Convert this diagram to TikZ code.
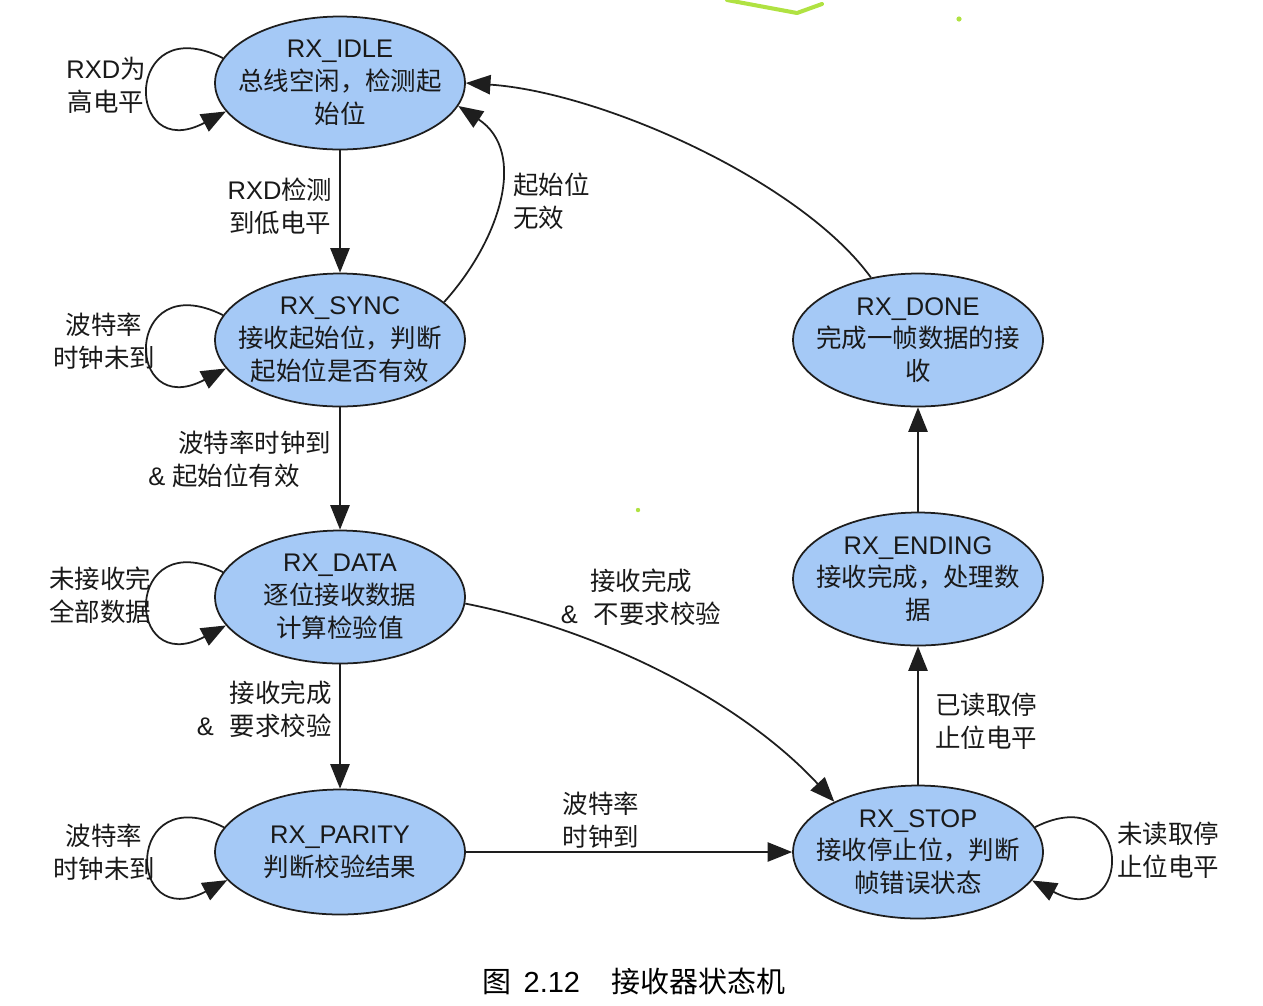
\documentclass[tikz,border=0pt]{standalone}
\usepackage{fontspec}
\setmainfont{Liberation Sans}
\newfontfamily\cjk{Noto Sans CJK SC}
\usetikzlibrary{shapes.geometric,arrows.meta}
\newcommand\zh[1]{{\cjk #1}}
\definecolor{stfill}{RGB}{165,201,246}
\definecolor{stline}{RGB}{30,30,30}
\definecolor{txt}{RGB}{25,25,25}
\definecolor{gmark}{RGB}{176,226,66}
\newcommand\lblfont{\fontsize{14.5pt}{18.7pt}\selectfont}
\newcommand\capfont{\fontsize{16.5pt}{20pt}\selectfont}
\tikzset{
  st/.style={ellipse, draw=stline, line width=1pt, fill=stfill, minimum width=5cm, minimum height=2.66cm, inner sep=0pt},
  lab/.style={align=center, inner sep=0pt, font=\lblfont, text=txt},
  arr/.style={-{Triangle[length=14pt,width=11pt]}, line width=1pt, draw=stline},
  gm/.style={draw=gmark, line width=2.3pt, line cap=round, line join=round},
}
\begin{document}
\begin{tikzpicture}[x=0.02cm, y=-0.02cm]
\useasboundingbox (0,0) rectangle (1263,1005);
% stray marks
\draw[gm] (727,0) -- (797,13) -- (822,4);
\fill[gmark] (959,19) circle[radius=2.6];
\fill[gmark] (638,510) circle[radius=2.2];
% states
\node[st, label={[lab]center:RX\_IDLE\\\zh{总线空闲，检测起}\\\zh{始位}}] (idle) at (340,83) {};
\node[st, label={[lab]center:RX\_SYNC\\\zh{接收起始位，判断}\\\zh{起始位是否有效}}] (sync) at (340,340) {};
\node[st, label={[lab]center:RX\_DATA\\\zh{逐位接收数据}\\\zh{计算检验值}}] (data) at (340,597) {};
\node[st, minimum height=2.5cm, label={[lab]center:RX\_PARITY\\\zh{判断校验结果}}] (parity) at (340,852) {};
\node[st, label={[lab]center:RX\_STOP\\\zh{接收停止位，判断}\\\zh{帧错误状态}}] (stop) at (918,852) {};
\node[st, label={[lab]center:RX\_ENDING\\\zh{接收完成，处理数}\\\zh{据}}] (ending) at (918,579) {};
\node[st, label={[lab]center:RX\_DONE\\\zh{完成一帧数据的接}\\\zh{收}}] (done) at (918,340) {};
% straight transitions
\draw[arr] (idle) -- (sync);
\draw[arr] (sync) -- (data);
\draw[arr] (data) -- (parity);
\draw[arr] (parity) -- (stop);
\draw[arr] (stop) -- (ending);
\draw[arr] (ending) -- (done);
% curved transitions
\draw[arr] (done.127) .. controls (800,180) and (600,92) .. (idle.east);
\draw[arr] (sync.20) .. controls (500,240) and (528,152) .. (idle.-11);
\draw[arr] (data.-3) .. controls (600,630) and (740,700) .. (stop.149);
% self loops
\draw[arr] (idle.168) .. controls +(-100,-50) and +(-102,54) .. (idle.194);
\draw[arr] (sync.168) .. controls +(-100,-50) and +(-102,54) .. (sync.194);
\draw[arr] (data.168) .. controls +(-100,-50) and +(-102,54) .. (data.194);
\draw[arr] (parity.168) .. controls +(-100,-50) and +(-102,54) .. (parity.194);
\draw[arr] (stop.12) .. controls +(100,-50) and +(102,54) .. (stop.-14);
% labels
\node[lab] (l1) at (106,85) {RXD\zh{为}\\\zh{高电平}};
\node[lab] (l2) at (280,206) {RXD\zh{检测}\\\zh{到低电平}};
\node[lab, align=left, anchor=west] (l3) at (513,201) {\zh{起始位}\\\zh{无效}};
\node[lab] (l4) at (104,341) {\zh{波特率}\\\zh{时钟未到}};
\node[lab, align=left, anchor=west] (l5) at (148,459) {\hspace*{17pt}\zh{波特率时钟到}\\\&\ \zh{起始位有效}};
\node[lab] (l6) at (100,595) {\zh{未接收完}\\\zh{全部数据}};
\node[lab, align=right, anchor=east] (l7) at (332,709) {\zh{接收完成}\\\&\hspace{9pt}\zh{要求校验}};
\node[lab] (l8) at (104,852) {\zh{波特率}\\\zh{时钟未到}};
\node[lab] (l9) at (641,597) {\zh{接收完成}\\\&\hspace{9pt}\zh{不要求校验}};
\node[lab] (l10) at (601,820) {\zh{波特率}\\\zh{时钟到}};
\node[lab] (l11) at (986,721) {\zh{已读取停}\\\zh{止位电平}};
\node[lab] (l12) at (1168,850) {\zh{未读取停}\\\zh{止位电平}};
% caption
\node[inner sep=0pt, font=\capfont, text=black] (cap) at (634,981) {\zh{图}\hspace{7pt}2.12\hspace{18pt}\zh{接收器状态机}};
\end{tikzpicture}
\end{document}
